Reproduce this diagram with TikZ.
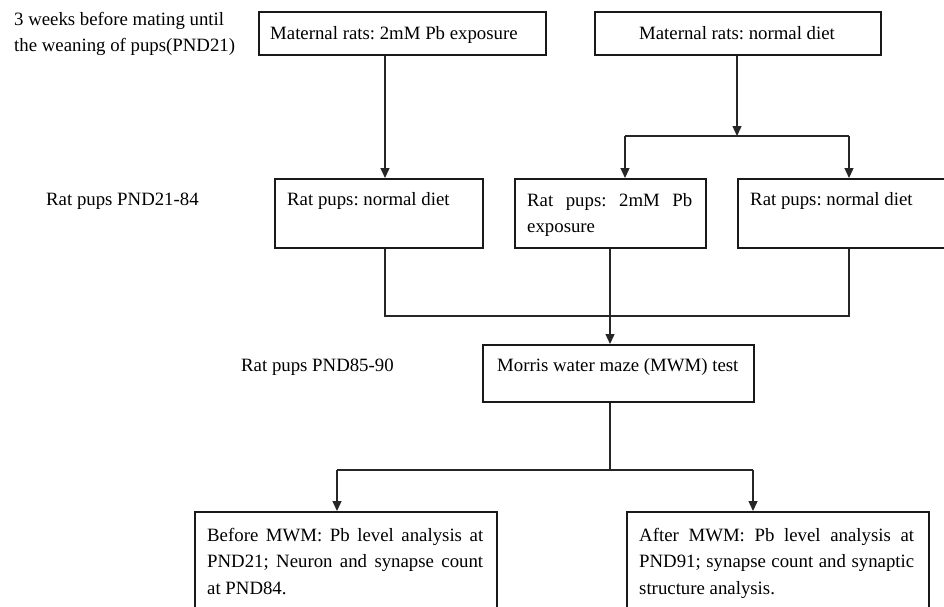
\documentclass[tikz,border=0pt]{standalone}
\usepackage{fontspec}
\setmainfont{Liberation Serif}
\usetikzlibrary{arrows.meta}
\newcommand\mystrut{\rule{0pt}{14pt}}
\frenchspacing
\tikzset{
  box/.style={draw=black!90, line width=1.5pt, inner sep=0pt, anchor=north west},
  txt/.style={anchor=north west, inner sep=0pt, align=left, text=black,
    font=\frenchspacing\fontsize{18.8pt}{26.5pt}\selectfont},
  conn/.style={draw=black!85, line width=1.3pt},
  arr/.style={conn, -{Triangle[length=10pt,width=9pt]}}
}
\begin{document}
\begin{tikzpicture}[x=1pt,y=-1pt]
\useasboundingbox (0,0) rectangle (944,606);
\clip (0,0) rectangle (944,606);
% boxes
\node[box, minimum width=287pt, minimum height=43pt] (A) at (258,11) {};
\node[box, minimum width=286pt, minimum height=43pt] (B) at (594,11) {};
\node[box, minimum width=208pt, minimum height=69pt] (C) at (274,178) {};
\node[box, minimum width=191pt, minimum height=69pt] (D) at (514,178) {};
\node[box, minimum width=230pt, minimum height=69pt] (E) at (737,178) {};
\node[box, minimum width=271pt, minimum height=57pt] (F) at (482,344) {};
\node[box, minimum width=302pt, minimum height=120pt] (G) at (194,511) {};
\node[box, minimum width=302pt, minimum height=120pt] (H) at (626,511) {};
% texts
\node[txt] (l1) at (14,11) {\mystrut 3 weeks before mating until\\the weaning of pups(PND21)};
\node[txt] (l2) at (46,191) {\mystrut Rat pups PND21-84};
\node[txt] (l3) at (241,357) {\mystrut Rat pups PND85-90};
\node[txt] (tA) at (270,25) {\mystrut Maternal rats: 2mM Pb exposure};
\node[txt, anchor=north] (tB) at (737,25) {\mystrut Maternal rats: normal diet};
\node[txt] (tC) at (287,191) {\mystrut Rat pups: normal diet};
\node[txt] (tD) at (527,192) {\mystrut\makebox[165pt][s]{Rat pups: 2mM Pb}\\exposure};
\node[txt] (tE) at (750,191) {\mystrut Rat pups: normal diet};
\node[txt] (tF) at (497,357) {\mystrut Morris water maze (MWM) test};
\node[txt] (tG) at (207,527) {\mystrut\makebox[276pt][s]{Before MWM: Pb level analysis at}\\\makebox[276pt][s]{PND21; Neuron and synapse count}\\at PND84.};
\node[txt] (tH) at (639,527) {\mystrut\makebox[275pt][s]{After MWM: Pb level analysis at}\\\makebox[275pt][s]{PND91; synapse count and synaptic}\\structure analysis.};
% connector points
\coordinate (s1) at (737,136);
\coordinate (s1l) at (625,136);
\coordinate (s1r) at (849,136);
\coordinate (j1) at (385,316);
\coordinate (j2) at (610,316);
\coordinate (j3) at (849,316);
\coordinate (s2) at (610,470);
\coordinate (s2l) at (337,470);
\coordinate (s2r) at (753,470);
% connectors
\draw[arr] (385,0 |- A.south) -- (385,0 |- C.north);
\draw[arr] (737,0 |- B.south) -- (s1);
\draw[conn] (s1l) -- (s1r);
\draw[arr] (s1l) -- (s1l |- D.north);
\draw[arr] (s1r) -- (s1r |- E.north);
\draw[conn] (j1 |- C.south) -- (j1) -- (j3) -- (j3 |- E.south);
\draw[conn] (j2 |- D.south) -- (j2);
\draw[arr] (j2) -- (j2 |- F.north);
\draw[conn] (s2 |- F.south) -- (s2);
\draw[conn] (s2l) -- (s2r);
\draw[arr] (s2l) -- (s2l |- G.north);
\draw[arr] (s2r) -- (s2r |- H.north);
\end{tikzpicture}
\end{document}
